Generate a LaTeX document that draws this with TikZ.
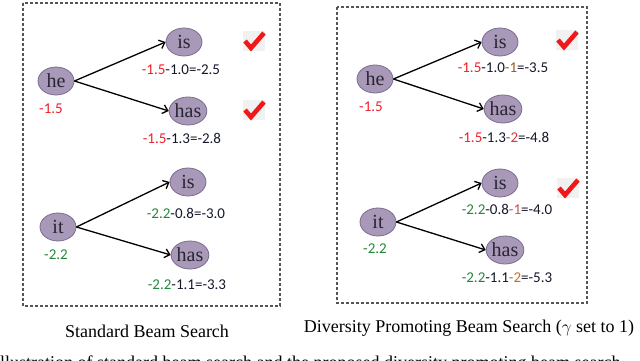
\documentclass[tikz,border=0pt]{standalone}
\usepackage{fontspec}
\setmainfont{Liberation Serif}
\newfontfamily\scorefont{Carlito}
\usetikzlibrary{shapes.geometric,arrows.meta}
\definecolor{nodefill}{HTML}{A999B9}
\definecolor{nodeborder}{HTML}{7A6A8E}
\definecolor{wordtext}{HTML}{2A2535}
\definecolor{scorered}{HTML}{F0202A}
\definecolor{scoregreen}{HTML}{23883A}
\definecolor{scoreblack}{HTML}{15182A}
\definecolor{penbrown}{HTML}{9B5A1E}
\definecolor{penred}{HTML}{D23C3C}
\definecolor{penpink}{HTML}{C8505A}
\definecolor{penorange}{HTML}{D2691E}
\definecolor{boxgray}{HTML}{555555}
\definecolor{tickred}{HTML}{F01818}
\definecolor{tickbg}{HTML}{F1F1F1}
\begin{document}
\begin{tikzpicture}[x=1pt,y=-1pt,
  word/.style={ellipse, draw=nodeborder, fill=nodefill, line width=0.8pt,
    minimum width=36pt, minimum height=28pt, inner sep=0pt,
    font=\fontsize{20}{20}\selectfont, text=wordtext},
  score/.style={font=\scorefont\fontsize{15}{15}\selectfont, inner sep=0pt, text=scoreblack},
  edge/.style={line width=1.3pt, draw=black, -{Straight Barb[length=5pt,width=9pt,line width=1.3pt]}},
  dbox/.style={draw=boxgray, line width=1.2pt, dash pattern=on 3pt off 2pt},
  caption/.style={font=\fontsize{18}{18}\selectfont, inner sep=0pt},
  tick/.pic={
    \fill[tickbg] (-11,-10) rectangle (11,10);
    \draw[tickred, line width=4.6pt, line join=miter] (-9,0) -- (-3,7) -- (10,-8);
  }]
\useasboundingbox (0,0) rectangle (640,361);
\clip (0,0) rectangle (640,361);
\fill[white] (0,0) rectangle (640,361);

% ---------- left panel ----------
\draw[dbox] (23,3) rectangle (280,306);
\node[word] (heL) at (56,81) {he};
\node[word] (isL) at (184,42) {is};
\node[word] (hasL) at (188,111) {has};
\node[score] (sheL) at (51,109) {\textcolor{scorered}{-1.5}};
\node[score] (sisL) at (181,70) {\textcolor{scorered}{-1.5}-1.0=-2.5};
\node[score] (shasL) at (182,138) {\textcolor{scorered}{-1.5}-1.3=-2.8};
\draw[edge] (heL.east) -- (isL.west);
\draw[edge] (heL.east) -- (hasL.west);
\pic at (254,41) {tick};
\pic at (254,110) {tick};

\node[word] (itL) at (58,227) {it};
\node[word] (is2L) at (188,182) {is};
\node[word] (has2L) at (190,255) {has};
\node[score] (sitL) at (56,255) {\textcolor{scoregreen}{-2.2}};
\node[score] (sis2L) at (186,213) {\textcolor{scoregreen}{-2.2}-0.8=-3.0};
\node[score] (shas2L) at (187,285) {\textcolor{scoregreen}{-2.2}-1.1=-3.3};
\draw[edge] (itL.east) -- (is2L.west);
\draw[edge] (itL.east) -- (has2L.west);

\node[caption] (capL) at (147,331) {Standard Beam Search};

% ---------- right panel ----------
\draw[dbox] (337,7) rectangle (587,303);
\node[word] (heR) at (375,79) {he};
\node[word] (isR) at (500,42) {is};
\node[word] (hasR) at (503,109) {has};
\node[score] (sheR) at (371,107) {\textcolor{scorered}{-1.5}};
\node[score] (sisR) at (503,68) {\textcolor{scorered}{-1.5}-1.0\textcolor{penbrown}{-1}=-3.5};
\node[score] (shasR) at (504,137) {\textcolor{scorered}{-1.5}-1.3\textcolor{penred}{-2}=-4.8};
\draw[edge] (heR.east) -- (isR.west);
\draw[edge] (heR.east) -- (hasR.west);
\pic at (567,40) {tick};

\node[word] (itR) at (378,222) {it};
\node[word] (is2R) at (500,183) {is};
\node[word] (has2R) at (505,250) {has};
\node[score] (sitR) at (375,249) {\textcolor{scoregreen}{-2.2}};
\node[score] (sis2R) at (507,209) {\textcolor{scoregreen}{-2.2}-0.8\textcolor{penpink}{-1}=-4.0};
\node[score] (shas2R) at (507,278) {\textcolor{scoregreen}{-2.2}-1.1\textcolor{penorange}{-2}=-5.3};
\draw[edge] (itR.east) -- (is2R.west);
\draw[edge] (itR.east) -- (has2R.west);
\pic at (568,188) {tick};

\node[caption] (capR) at (469,328) {Diversity Promoting Beam Search ($\gamma$ set to 1)};

% ---------- cut-off figure caption (only its top shows) ----------
\node[caption, anchor=base west] (figcap) at (-6,368) {Illustration of standard beam search and the proposed diversity promoting beam search};
\end{tikzpicture}
\end{document}
